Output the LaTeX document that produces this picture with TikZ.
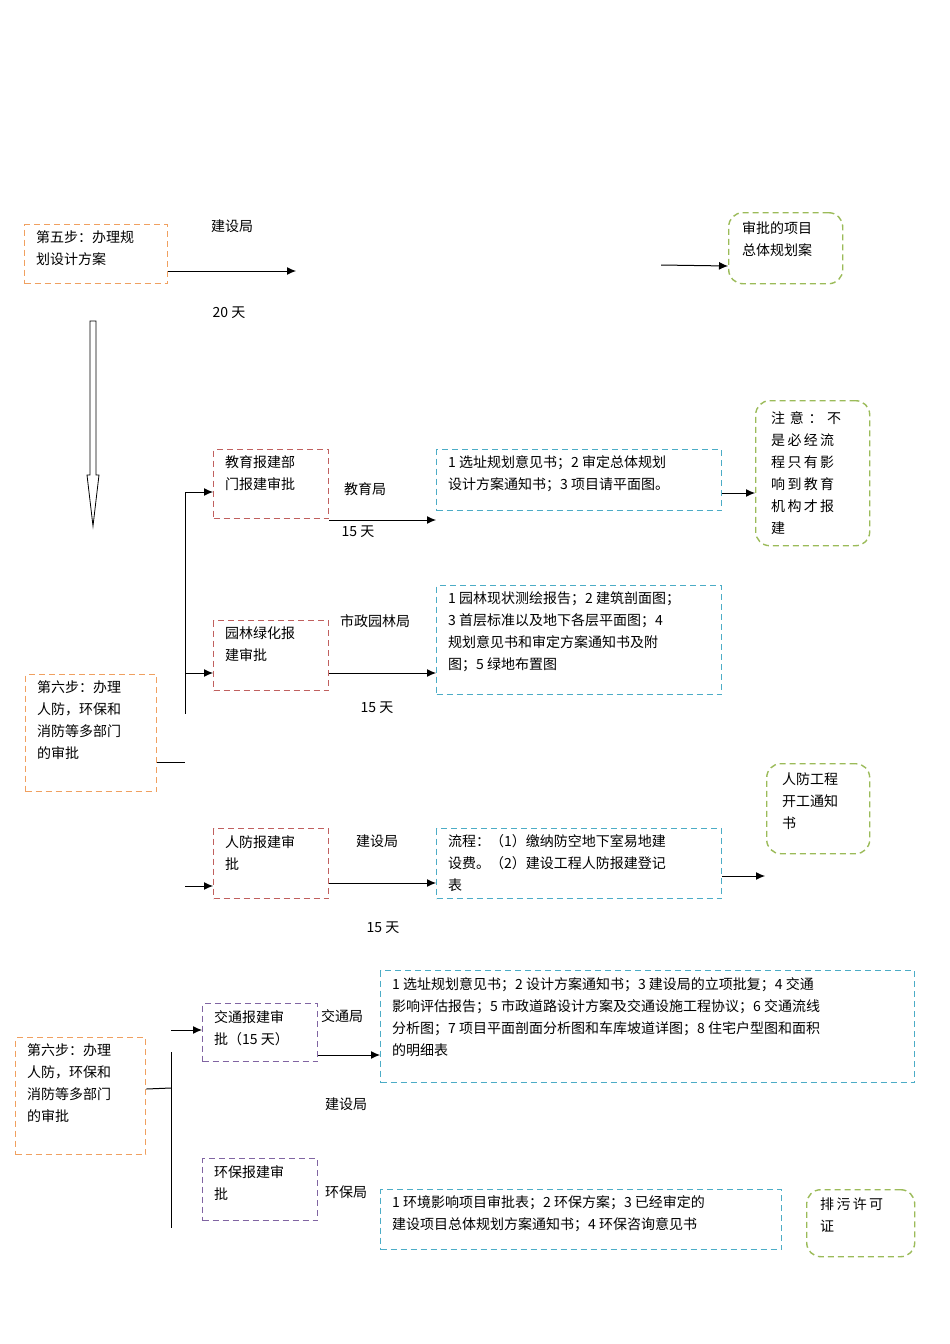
\documentclass[tikz,border=0pt]{standalone}
\usepackage{fontspec}
\setmainfont{Noto Sans CJK SC}
\usetikzlibrary{arrows.meta}
\definecolor{cor}{HTML}{F0A060}
\definecolor{cred}{HTML}{C0605E}
\definecolor{cblu}{HTML}{4BACC6}
\definecolor{cgrn}{HTML}{9BBB59}
\definecolor{cpur}{HTML}{8064A2}
\begin{document}
\begin{tikzpicture}[
 x=1pt,y=-1pt,
 bx/.style={draw=#1,line width=1.4pt,dash pattern=on 6pt off 4pt,inner sep=0,anchor=north west},
 rbx/.style={bx=#1,rounded corners=14pt},
 tx/.style={anchor=north west,inner sep=0,align=left,font=\fontsize{14}{22}\selectfont},
 lb/.style={inner sep=0,font=\fontsize{14}{22}\selectfont},
 ar/.style={line width=1pt,-{Latex[length=9pt,width=8pt]}},
 ln/.style={line width=1pt},
 sz/.style n args={2}{minimum width=#1pt,minimum height=#2pt}
]
\useasboundingbox (0,0) rectangle (950,1344);
% step 5
\node[bx=cor,sz={143}{59}] (s5) at (24,224) {};
\node[tx] (s5t) at (36,230) {第五步：办理规\\划设计方案};
\coordinate (a1) at (296,271);
\draw[ar] (s5.east |- a1) -- (a1);
\node[lb] (l1) at (232,226) {建设局};
\node[lb] (l2) at (229,313) {20 天};
\node[rbx=cgrn,sz={114}{71}] (r1) at (728,212) {};
\node[tx] (r1t) at (742,221) {审批的项目\\总体规划案};
\coordinate (a2) at (661,265);
\draw[ar] (a2) -- (r1.west |- 0,266);
% hollow arrow
\draw[line width=0.8pt] (90,321) -- (96,321) -- (96,475) -- (99,475) -- (93,526) -- (87,475) -- (90,475) -- cycle;
% education
\node[bx=cred,sz={115}{69}] (ed) at (213,449) {};
\node[tx] (edt) at (225,455) {教育报建部\\门报建审批};
\node[lb] (l3) at (365,489) {教育局};
\node[lb] (l4) at (358,532) {15 天};
\node[bx=cblu,sz={285}{61}] (edb) at (436,449) {};
\node[tx] (edbt) at (448,455) {1 选址规划意见书；2 审定总体规划\\设计方案通知书；3 项目请平面图。};
\draw[ar] (ed.east |- 0,520) -- (edb.west |- 0,520);
\node[rbx=cgrn,sz={114}{145}] (nt) at (755,400) {};
\begin{scope}
\clip (755,400) rectangle (869,538);
\node[tx] (ntt) at (771,411) {注\,\,意\,\,：\,\,不\\是\,必\,经\,流\\程\,只\,有\,影\\响\,到\,教\,育\\机\,构\,才\,报\\建};
\end{scope}
\draw[ar] (edb.east |- 0,493) -- (nt.west |- 0,493);
% garden
\node[bx=cred,sz={115}{70}] (gd) at (213,620) {};
\node[tx] (gdt) at (225,627) {园林绿化报\\建审批};
\node[lb] (l5) at (375,621) {市政园林局};
\node[lb] (l6) at (377,708) {15 天};
\node[bx=cblu,sz={285}{109}] (gdb) at (436,585) {};
\node[tx] (gdbt) at (448,591) {1 园林现状测绘报告；2 建筑剖面图；\\3 首层标准以及地下各层平面图；4\\规划意见书和审定方案通知书及附\\图；5 绿地布置图};
\draw[ar] (gd.east |- 0,673) -- (gdb.west |- 0,673);
% step 6
\node[bx=cor,sz={131}{117}] (s6) at (25,674) {};
\node[tx] (s6t) at (37,680) {第六步：办理\\人防，环保和\\消防等多部门\\的审批};
\coordinate (v1) at (185,492);
\coordinate (v2) at (185,714);
\draw[ln] (v1) -- (v2);
\draw[ar] (v1) -- (ed.west |- v1);
\draw[ar] (185,673) -- (gd.west |- 0,673);
\coordinate (s6e) at (185,762);
\draw[ln] (s6.east |- s6e) -- (s6e);
% renfang
\node[bx=cred,sz={115}{70}] (rf) at (213,828) {};
\node[tx] (rft) at (225,835) {人防报建审\\批};
\coordinate (rfa) at (185,886);
\draw[ar] (rfa) -- (rf.west |- rfa);
\node[lb] (l7) at (377,841) {建设局};
\node[lb] (l8) at (383,928) {15 天};
\node[bx=cblu,sz={285}{70}] (rfb) at (436,828) {};
\begin{scope}
\clip (436,828) rectangle (721,893);
\node[tx] (rfbt) at (448,834) {流程：（1）缴纳防空地下室易地建\\设费。（2）建设工程人防报建登记\\表};
\end{scope}
\draw[ar] (rf.east |- 0,883) -- (rfb.west |- 0,883);
\node[rbx=cgrn,sz={103}{90}] (rg) at (766,763) {};
\node[tx] (rgt) at (782,773) {人防工程\\开工通知\\书};
\coordinate (rga) at (765,876);
\draw[ar] (rfb.east |- rga) -- (rga);
% bottom step 6
\node[bx=cor,sz={130}{117}] (b6) at (15,1037) {};
\node[tx] (b6t) at (27,1043) {第六步：办理\\人防，环保和\\消防等多部门\\的审批};
\coordinate (w1) at (171,1052);
\coordinate (w2) at (171,1228);
\draw[ln] (w1) -- (w2);
\draw[ln] (b6.east |- 0,1089) -- (171,1088);
\node[bx=cpur,sz={115}{58}] (tr) at (202,1003) {};
\node[tx] (trt) at (214,1010) {交通报建审\\批（15 天）};
\coordinate (tra) at (171,1030);
\draw[ar] (tra) -- (tr.west |- tra);
\node[lb] (l9) at (342,1016) {交通局};
\node[bx=cblu,sz={534}{112}] (trb) at (380,970) {};
\node[tx] (trbt) at (392,977) {1 选址规划意见书；2 设计方案通知书；3 建设局的立项批复；4 交通\\影响评估报告；5 市政道路设计方案及交通设施工程协议；6 交通流线\\分析图；7 项目平面剖面分析图和车库坡道详图；8 住宅户型图和面积\\的明细表};
\draw[ar] (tr.east |- 0,1055) -- (trb.west |- 0,1055);
\node[lb] (l10) at (346,1104) {建设局};
\node[bx=cpur,sz={115}{62}] (hb) at (202,1158) {};
\node[tx] (hbt) at (214,1165) {环保报建审\\批};
\node[lb] (l11) at (346,1192) {环保局};
\node[bx=cblu,sz={401}{60}] (hbb) at (380,1189) {};
\node[tx] (hbbt) at (392,1195) {1 环境影响项目审批表；2 环保方案；3 已经审定的\\建设项目总体规划方案通知书；4 环保咨询意见书};
\node[rbx=cgrn,sz={108}{67}] (pw) at (806,1189) {};
\node[tx] (pwt) at (820,1198) {排\,污\,许\,可\\证};
\end{tikzpicture}
\end{document}
